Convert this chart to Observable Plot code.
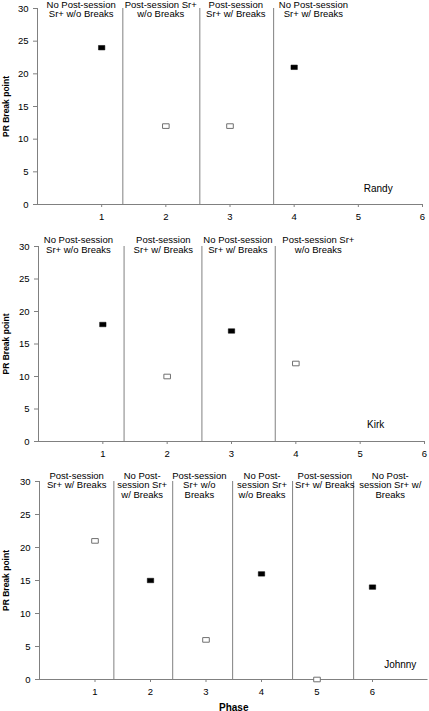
<!DOCTYPE html>
<html><head><meta charset="utf-8">
<script src="https://cdn.jsdelivr.net/npm/d3@7"></script>
<script src="https://cdn.jsdelivr.net/npm/@observablehq/plot@0.6"></script>
<style>
body{margin:0;background:#fff;}
#chart>div{height:auto;line-height:0;}
svg{display:block;}
</style>
</head><body><div id="chart"></div>
<script>
const yTicks = [0, 5, 10, 15, 20, 25, 30];
const xTicks = [1, 2, 3, 4, 5, 6];
const yLabel = "PR Break point";
const xLabel = "Phase";

// Randy
const randyPhase = [1, 2, 3, 4];
const randyBP = [24, 12, 12, 21];
const randyPost = [false, true, true, false];
const randyLines = [1.33, 2.53, 3.68];
const randyLabels = ["No Post-session\nSr+ w/o Breaks", "Post-session Sr+\nw/o Breaks", "Post-session\nSr+ w/ Breaks", "No Post-session\nSr+ w/ Breaks"];
const randyLabelX = [0.68, 1.92, 3.09, 4.3];

// Kirk
const kirkPhase = [1, 2, 3, 4];
const kirkBP = [18, 10, 17, 12];
const kirkPost = [false, true, false, true];
const kirkLines = [1.33, 2.54, 3.68];
const kirkLabels = ["No Post-session\nSr+ w/o Breaks", "Post-session\nSr+ w/ Breaks", "No Post-session\nSr+ w/ Breaks", "Post-session Sr+\nw/o Breaks"];
const kirkLabelX = [0.62, 1.94, 3.1, 4.35];

// Johnny
const johnnyPhase = [1, 2, 3, 4, 5, 6];
const johnnyBP = [21, 15, 6, 16, 0, 14];
const johnnyPost = [true, false, true, false, true, false];
const johnnyLines = [1.34, 2.4, 3.48, 4.56, 5.66];
const johnnyLabels = ["Post-session\nSr+ w/ Breaks", "No Post-\nsession Sr+\nw/ Breaks", "Post-session\nSr+ w/o\nBreaks", "No Post-\nsession Sr+\nw/o Breaks", "Post-session\nSr+ w/ Breaks", "No Post-\nsession Sr+ w/\nBreaks"];
const johnnyLabelX = [0.67, 1.85, 2.88, 4.01, 5.14, 6.32];

const names = ["Randy", "Kirk", "Johnny"];
const nameX = [5.31, 5.24, 6.5];
const nameY = [2.45, 2.6, 2.17];

const gray = "#808080";
const wideSquare = {
  draw(c, size) {
    const r = Math.sqrt(size / Math.PI);
    c.rect(-r, -r * 0.7, r * 2, r * 1.4);
  }
};

function panel(p) {
  const data = p.phase.map((ph, i) => ({phase: ph, bp: p.bp[i], post: p.post[i]}));
  const labels = p.labels.map((t, i) => ({x: p.labelX[i], t}));
  const marks = [
    Plot.ruleX(p.lines, {y1: 0, y2: 30, stroke: gray}),
    Plot.ruleX([0], {y1: 0, y2: 30, stroke: gray}),
    Plot.ruleY([0], {x1: 0, x2: p.xMax, stroke: gray}),
    Plot.axisY(yTicks, {tickSize: 4, tickPadding: 5, stroke: gray, label: null}),
    Plot.axisX(xTicks, {tickSize: 3, tickPadding: 6, stroke: gray, label: null}),
    Plot.text(labels, {x: "x", text: "t", frameAnchor: "top", lineAnchor: "top", dy: p.labelDy, lineHeight: 1.0, fontSize: 9.5, fill: "black"}),
    Plot.text([yLabel], {frameAnchor: "left", textAnchor: "middle", lineAnchor: "middle", rotate: -90, dx: 5.5 - p.ml, fontWeight: "bold", fontSize: 8.5, fill: "black"}),
    Plot.text([p.name], {x: [p.nameX], y: [p.nameY], fontSize: 10, fill: "black"}),
    Plot.dot(data.filter(d => d.post), {x: "phase", y: "bp", symbol: wideSquare, r: 3.3, fill: "white", stroke: "#707070", strokeWidth: 1}),
    Plot.dot(data.filter(d => !d.post), {x: "phase", y: "bp", symbol: wideSquare, r: 3.2, fill: "black", stroke: "black", strokeWidth: 0.5})
  ];
  if (p.showX) marks.push(Plot.text([xLabel], {frameAnchor: "bottom", dy: 31, fontWeight: "bold", fontSize: 10, fill: "black"}));
  return Plot.plot({
    width: 429, height: p.height,
    marginTop: p.mt, marginBottom: p.mb, marginLeft: p.ml, marginRight: p.mr,
    x: {domain: [0, p.xMax]},
    y: {domain: [0, 30]},
    style: {fontFamily: "'Liberation Sans', Arial, sans-serif", fontSize: "9.5px", background: "white", color: "black"},
    marks
  });
}

const chart = document.getElementById("chart");
chart.append(panel({phase: randyPhase, bp: randyBP, post: randyPost, lines: randyLines, labels: randyLabels, labelX: randyLabelX,
  name: names[0], nameX: nameX[0], nameY: nameY[0], xMax: 6, height: 228, mt: 8, mb: 24, ml: 37, mr: 7, labelDy: -7.5}));
chart.append(panel({phase: kirkPhase, bp: kirkBP, post: kirkPost, lines: kirkLines, labels: kirkLabels, labelX: kirkLabelX,
  name: names[1], nameX: nameX[1], nameY: nameY[1], xMax: 6, height: 236, mt: 18, mb: 23, ml: 38, mr: 5, labelDy: -10}));
chart.append(panel({phase: johnnyPhase, bp: johnnyBP, post: johnnyPost, lines: johnnyLines, labels: johnnyLabels, labelX: johnnyLabelX,
  name: names[2], nameX: nameX[2], nameY: nameY[2], xMax: 7, height: 247, mt: 17, mb: 32, ml: 39, mr: 1.5, labelDy: -9.5, showX: true}));
</script>
</body></html>
